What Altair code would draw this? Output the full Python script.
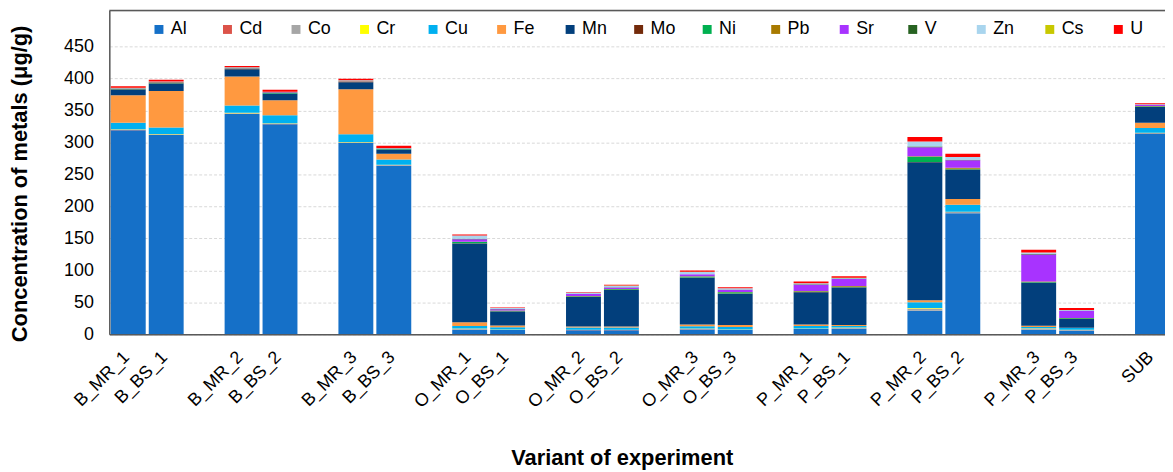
import altair as alt
import pandas as pd

samples = ["B_MR_1", "B_BS_1", "B_MR_2", "B_BS_2", "B_MR_3", "B_BS_3",
           "O_MR_1", "O_BS_1", "O_MR_2", "O_BS_2", "O_MR_3", "O_BS_3",
           "P_MR_1", "P_BS_1", "P_MR_2", "P_BS_2", "P_MR_3", "P_BS_3", "SUB"]

metals = ["Al", "Cd", "Co", "Cr", "Cu", "Fe", "Mn", "Mo", "Ni", "Pb", "Sr", "V", "Zn", "Cs", "U"]
colors = ["#1570C8", "#DC5349", "#A6A6A6", "#FFFF00", "#00B0F0", "#FF9940", "#023F7C",
          "#732A0A", "#00B050", "#A87A00", "#A833FF", "#276221", "#A9D5EE", "#C8C800", "#FF0000"]

Al = [319, 311.5, 344.5, 328.4, 299, 263.3, 7.2, 6.7, 6.5, 6.5, 7.7, 6.7, 8.3, 8.8, 36.7, 189.1, 7.2, 5.7, 313]
Cd = [0.2, 0.2, 0.2, 0.2, 0.2, 0.2, 0.1, 0.1, 0.1, 0.1, 0.1, 0.1, 0.1, 0.1, 0.2, 0.2, 0.1, 0.1, 0.2]
Co = [1.0, 1.0, 1.0, 1.0, 1.0, 1.0, 1.5, 0.5, 0.5, 0.5, 1.0, 0.5, 0.5, 1.5, 3.6, 2.0, 2.0, 1.0, 1.5]
Cr = [0.5, 0.5, 0.5, 0.5, 0.5, 0.4, 0.3, 0.2, 0.2, 0.2, 0.2, 0.2, 0.2, 0.3, 0.5, 0.5, 0.2, 0.2, 0.5]
Cu = [10, 10, 11.4, 12.4, 11.9, 8.3, 4.1, 3.6, 3.5, 3.5, 3.5, 4, 4.1, 2.5, 9.3, 10.9, 2, 3, 7.2]
Fe = [43, 57, 45.5, 23.5, 70.5, 9, 5.7, 2.6, 1.5, 1.5, 3, 3, 2, 1.5, 3.1, 8.8, 2, 0.5, 8.3]
Mn = [9, 12, 11.4, 10.3, 10.9, 6.5, 123, 22.2, 46, 57, 73, 49, 50.6, 58.5, 215.5, 45.5, 67.2, 13.4, 24.8]
Mo = [0.3, 0.3, 0.3, 0.3, 0.3, 0.3, 0.3, 0.3, 0.3, 0.2, 0.3, 0.3, 0.3, 0.3, 0.5, 0.5, 0.3, 0.2, 0.3]
Ni = [0.5, 0.5, 0.6, 0.6, 0.6, 0.5, 2, 0.5, 1, 0.8, 1.5, 2, 1, 1, 8.3, 1.5, 1, 1, 0.5]
Pb = [0.4, 0.5, 0.5, 0.5, 0.5, 0.5, 0.5, 0.5, 0.5, 0.5, 0.5, 0.5, 0.5, 1.0, 0.8, 1.5, 0.5, 0.3, 0.5]
Sr = [0.5, 0.5, 0.5, 0.6, 0.6, 0.5, 4.1, 2, 3, 2.5, 3, 3.5, 9.8, 10.9, 14, 11.4, 42.4, 11.4, 1.5]
V = [0.3, 0.5, 0.4, 0.4, 0.4, 0.3, 0.5, 0.3, 0.3, 0.3, 0.3, 0.3, 1, 0.8, 1, 1, 1, 0.3, 0.3]
Zn = [0.5, 0.5, 0.6, 0.5, 0.6, 0.5, 5.2, 1.5, 2, 2.5, 3.5, 2, 1.5, 1, 7.8, 4.1, 2, 1, 1]
Cs = [0.1] * 19
U = [2.5, 3, 2, 2.8, 2.4, 3.2, 1.5, 1, 0.8, 1.5, 2, 1.5, 2.6, 2.6, 7.2, 5.2, 4.1, 3.1, 1.5]

series = {"Al": Al, "Cd": Cd, "Co": Co, "Cr": Cr, "Cu": Cu, "Fe": Fe, "Mn": Mn, "Mo": Mo,
          "Ni": Ni, "Pb": Pb, "Sr": Sr, "V": V, "Zn": Zn, "Cs": Cs, "U": U}

# category slots: each MR/BS pair followed by an empty slot
slots = [3 * (i // 2) + (i % 2) for i in range(len(samples))]
n_slots = slots[-1] + 1
slot_names = [""] * n_slots
for s, name in zip(slots, samples):
    slot_names[s] = name

rows = []
for mi, m in enumerate(metals):
    for si, s in enumerate(samples):
        rows.append({"sample": s, "metal": m, "order": mi, "value": series[m][si], "slot": slots[si]})
df = pd.DataFrame(rows)

W, H = 1063, 326
XMAX = 27.83

label_expr = "[" + ",".join("'" + n + "'" for n in slot_names) + "][floor(datum.value)]"
tick_vals = [s + 0.5 for s in slots]

bars = alt.Chart(df).transform_stack(
    stack="value", groupby=["sample"], as_=["y0", "y1"],
    sort=[alt.SortField("order", order="ascending")]
).transform_calculate(
    xs="datum.slot + 0.04", xe="datum.slot + 0.96"
).mark_bar(clip=True).encode(
    x=alt.X("xs:Q", scale=alt.Scale(domain=[0, XMAX], nice=False, zero=False),
            title="Variant of experiment",
            axis=alt.Axis(values=tick_vals, labelExpr=label_expr, labelAngle=315,
                          labelAlign="right", labelBaseline="middle", labelOffset=-2,
                          labelPadding=20, ticks=False, tickSize=0, grid=False,
                          labelOverlap=False, labelFontSize=18, labelBound=False,
                          domainColor="#595959", domainWidth=1.5,
                          titleFontSize=22, titleFontWeight="bold", titleX=516, titleY=131,
                          titleAlign="center", titleBaseline="alphabetic")),
    x2="xe:Q",
    y=alt.Y("y0:Q", scale=alt.Scale(domain=[0, 506], nice=False),
            title="Concentration of metals (μg/g)",
            axis=alt.Axis(values=list(range(0, 451, 50)), grid=True, gridDash=[3, 2],
                          gridColor="#D9D9D9", gridWidth=1, ticks=False, tickSize=0,
                          labelPadding=16, labelFontSize=18, domainColor="#595959",
                          domainWidth=1.5, titleFontSize=22, titleFontWeight="bold",
                          titleAngle=270, titleX=-83, titleY=174, titleAlign="center",
                          titleBaseline="alphabetic")),
    y2="y1:Q",
    color=alt.Color("metal:N", scale=alt.Scale(domain=metals, range=colors),
                    legend=alt.Legend(orient="none", legendX=41, legendY=10,
                                      direction="horizontal", columns=15, gridAlign="all",
                                      columnPadding=22, symbolType="square", symbolSize=81,
                                      symbolStrokeWidth=0, labelFontSize=18, labelOffset=3,
                                      title=None, padding=0, labelLimit=200)),
)

top_border = alt.Chart(pd.DataFrame({"a": [0]})).mark_rule(color="#595959", strokeWidth=1.5).encode(
    y=alt.value(0), x=alt.value(0), x2=alt.value(W)
)

chart = alt.layer(bars, top_border).properties(
    width=W, height=H,
    autosize=alt.AutoSizeParams(type="none"),
    padding={"left": 102, "top": 1, "right": 0, "bottom": 137},
).configure_view(stroke=None).configure(
    font="Liberation Sans"
).configure_axis(
    labelFont="Liberation Sans", titleFont="Liberation Sans",
    labelColor="#000000", titleColor="#000000"
).configure_legend(
    labelFont="Liberation Sans", labelColor="#000000"
)

chart.save("out.html", embed_options={"renderer": "svg", "actions": False})
